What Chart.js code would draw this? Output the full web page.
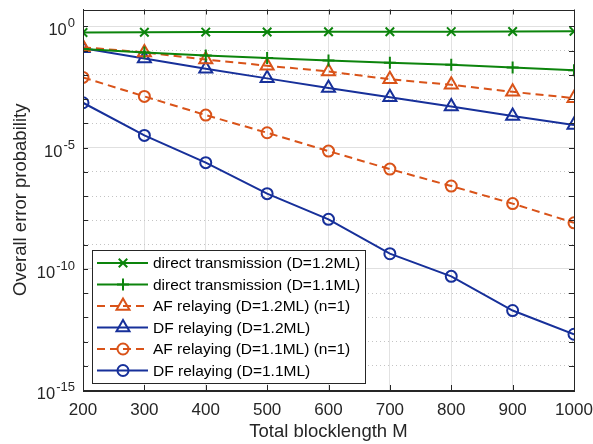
<!DOCTYPE html>
<html>
<head>
<meta charset="utf-8">
<script src="https://cdn.jsdelivr.net/npm/chart.js@4.4.1/dist/chart.umd.min.js"></script>
<style>
  html, body { margin: 0; padding: 0; background: #fff; }
</style>
</head>
<body>
<canvas id="errChart" width="593" height="444"></canvas>
<script>
const blocklength = [200, 300, 400, 500, 600, 700, 800, 900, 1000];

const directD12 = [0.56, 0.575, 0.585, 0.59, 0.60, 0.60, 0.61, 0.615, 0.63];
const directD11 = [0.117, 0.085, 0.063, 0.050, 0.039, 0.032, 0.026, 0.020, 0.0155];
const afD12 = [0.138, 0.085, 0.043, 0.024, 0.0138, 0.0066, 0.0039, 0.0020, 0.0011];
const dfD12 = [0.126, 0.048, 0.0178, 0.0072, 0.0029, 0.0012, 5.0e-4, 2.0e-4, 8.5e-5];
const afD11 = [7.9e-3, 1.3e-3, 2.2e-4, 4.1e-5, 7.2e-6, 1.3e-6, 2.6e-7, 4.9e-8, 7.9e-9];
const dfD11 = [7.1e-4, 3.2e-5, 2.4e-6, 1.26e-7, 1.1e-8, 4.2e-10, 4.9e-11, 1.9e-12, 2.0e-13];

const xTicks = [200, 300, 400, 500, 600, 700, 800, 900, 1000];
const yTickExps = [-15, -14, -13, -12, -11, -10, -9, -8, -7, -6, -5, -4, -3, -2, -1, 0];
const yLabelExps = [-15, -10, -5, 0];

const GREEN = '#0c840c';
const ORANGE = '#d95319';
const BLUE = '#17309a';
const DASH = [8, 5];
const FONT = '"Liberation Sans", Arial, Helvetica, sans-serif';

const series = [
    { label: 'direct transmission (D=1.2ML)', data: directD12, color: GREEN, marker: 'crossRot', radius: 6, dash: [] },
    { label: 'direct transmission (D=1.1ML)', data: directD11, color: GREEN, marker: 'cross', radius: 6, dash: [] },
    { label: 'AF relaying (D=1.2ML) (n=1)', data: afD12, color: ORANGE, marker: 'triangle', radius: 7.5, dash: DASH },
    { label: 'DF relaying (D=1.2ML)', data: dfD12, color: BLUE, marker: 'triangle', radius: 7.5, dash: [] },
    { label: 'AF relaying (D=1.1ML) (n=1)', data: afD11, color: ORANGE, marker: 'circle', radius: 5.5, dash: DASH },
    { label: 'DF relaying (D=1.1ML)', data: dfD11, color: BLUE, marker: 'circle', radius: 5.5, dash: [] }
];

// small marker painter for the legend samples
function paintMarker(ctx, style, x, y, r) {
    ctx.beginPath();
    if (style === 'circle') {
        ctx.arc(x, y, r, 0, Math.PI * 2);
    } else if (style === 'triangle') {
        for (let i = 0; i < 3; i++) {
            const a = i * 2 * Math.PI / 3;
            const px = x + Math.sin(a) * r, py = y - Math.cos(a) * r;
            i ? ctx.lineTo(px, py) : ctx.moveTo(px, py);
        }
        ctx.closePath();
    } else if (style === 'cross') {
        ctx.moveTo(x, y - r); ctx.lineTo(x, y + r);
        ctx.moveTo(x - r, y); ctx.lineTo(x + r, y);
    } else {
        const d = r * Math.SQRT1_2;
        ctx.moveTo(x - d, y - d); ctx.lineTo(x + d, y + d);
        ctx.moveTo(x - d, y + d); ctx.lineTo(x + d, y - d);
    }
    ctx.stroke();
}

const decorations = {
    id: 'decorations',
    afterDraw(chart) {
        const { ctx, chartArea: a, scales: { x, y } } = chart;
        ctx.save();

        // box + inward ticks
        ctx.strokeStyle = '#262626';
        ctx.lineWidth = 1;
        ctx.setLineDash([]);
        ctx.strokeRect(Math.round(a.left) + 0.5, Math.round(a.top) + 0.5,
            Math.round(a.right - a.left), Math.round(a.bottom - a.top));
        ctx.beginPath();
        x.ticks.forEach(t => {
            const px = Math.round(x.getPixelForValue(t.value)) + 0.5;
            ctx.moveTo(px, a.bottom); ctx.lineTo(px, a.bottom - 5);
            ctx.moveTo(px, a.top); ctx.lineTo(px, a.top + 5);
        });
        y.ticks.forEach(t => {
            const py = Math.round(y.getPixelForValue(t.value)) + 0.5;
            ctx.moveTo(a.left, py); ctx.lineTo(a.left + 5, py);
            ctx.moveTo(a.right, py); ctx.lineTo(a.right - 5, py);
        });
        ctx.stroke();

        // y labels with superscript exponents
        ctx.fillStyle = '#262626';
        ctx.textBaseline = 'alphabetic';
        yLabelExps.forEach(e => {
            const py = y.getPixelForValue(Math.pow(10, e));
            const right = a.left - 8;
            ctx.font = '13px ' + FONT;
            const expText = String(e);
            const ew = ctx.measureText(expText).width;
            ctx.textAlign = 'right';
            ctx.fillText(expText, right, py + 1);
            ctx.font = '16.5px ' + FONT;
            ctx.fillText('10', right - ew - 1, py + 9);
        });

        // legend
        const lx = a.left + 9, ly = a.bottom - 140, lw = 273, lh = 133;
        ctx.fillStyle = '#fff';
        ctx.fillRect(lx, ly, lw, lh);
        ctx.strokeStyle = '#262626';
        ctx.strokeRect(lx + 0.5, ly + 0.5, lw, lh);
        ctx.font = '15.5px ' + FONT;
        ctx.textAlign = 'left';
        ctx.textBaseline = 'middle';
        chart.data.datasets.forEach((ds, i) => {
            const ry = ly + 13 + i * 21.5;
            ctx.strokeStyle = ds.borderColor;
            ctx.lineWidth = 2;
            ctx.setLineDash(ds.borderDash || []);
            ctx.beginPath();
            ctx.moveTo(lx + 5, ry); ctx.lineTo(lx + 56, ry);
            ctx.stroke();
            ctx.setLineDash([]);
            paintMarker(ctx, ds.pointStyle, lx + 31, ry, ds.pointRadius);
            ctx.fillStyle = '#000';
            ctx.fillText(ds.label, lx + 61, ry + 1);
        });

        ctx.restore();
    }
};

new Chart(document.getElementById('errChart'), {
    type: 'line',
    data: {
        datasets: series.map(s => ({
            label: s.label,
            data: blocklength.map((m, i) => ({ x: m, y: s.data[i] })),
            borderColor: s.color,
            backgroundColor: 'transparent',
            borderWidth: 2,
            borderDash: s.dash,
            pointStyle: s.marker,
            pointRadius: s.radius,
            pointBorderWidth: 2,
            pointBorderColor: s.color,
            pointBackgroundColor: 'transparent',
            tension: 0
        }))
    },
    options: {
        responsive: false,
        animation: false,
        layout: { padding: { top: 8, right: 19, left: 0, bottom: 0 } },
        plugins: { legend: { display: false }, tooltip: { enabled: false } },
        scales: {
            x: {
                type: 'linear',
                min: 200,
                max: 1000,
                afterBuildTicks: scale => { scale.ticks = xTicks.map(v => ({ value: v })); },
                afterFit: scale => { scale.height = 54; scale.paddingLeft = 0; scale.paddingRight = 0; },
                ticks: { color: '#262626', font: { family: FONT, size: 17 }, padding: 10, maxRotation: 0, callback: v => String(v) },
                grid: { color: '#e2e2e2', drawTicks: false },
                border: { color: '#262626', width: 1 },
                title: { display: true, text: 'Total blocklength M', color: '#262626', font: { family: FONT, size: 18.5 }, padding: { top: 0, bottom: 1 } }
            },
            y: {
                type: 'logarithmic',
                min: 1e-15,
                max: 5,
                afterBuildTicks: scale => { scale.ticks = yTickExps.map(e => ({ value: Math.pow(10, e) })); },
                afterFit: scale => { scale.width = 83; },
                ticks: { display: false },
                grid: {
                    drawTicks: false,
                    color: c => (c.tick && Math.round(Math.log10(c.tick.value)) % 5 === 0) ? '#e0e0e0' : '#c4c4c4'
                },
                border: {
                    color: '#262626',
                    width: 1,
                    dash: c => (c.tick && Math.round(Math.log10(c.tick.value)) % 5 !== 0) ? [1, 3] : []
                },
                title: { display: true, text: 'Overall error probability', color: '#262626', font: { family: FONT, size: 18.5 }, padding: { top: 10, bottom: 0 } }
            }
        }
    },
    plugins: [decorations]
});
</script>
</body>
</html>
